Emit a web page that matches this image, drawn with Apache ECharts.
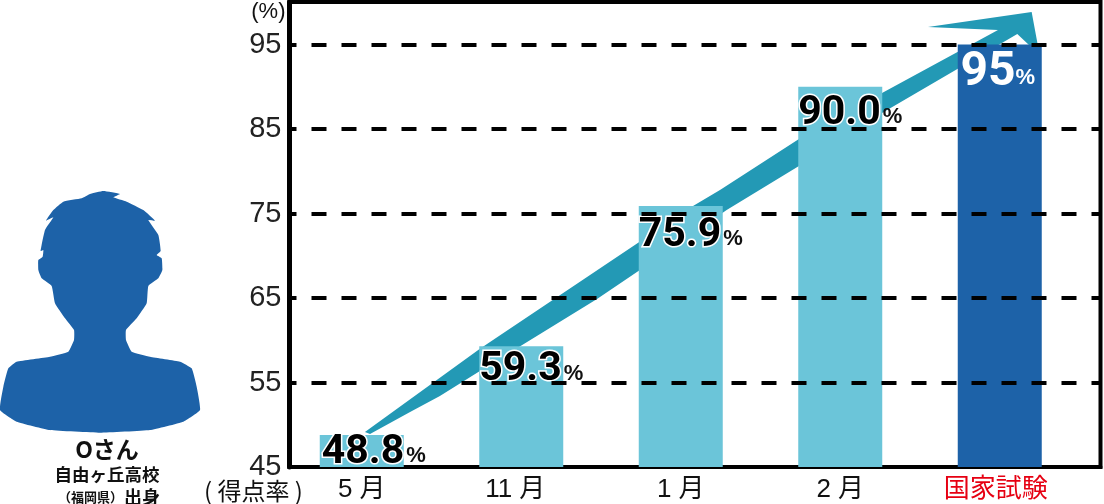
<!DOCTYPE html>
<html><head><meta charset="utf-8">
<style>html,body{margin:0;padding:0;background:#fff}#c{width:1104px;height:504px}</style>
<script src="https://cdn.jsdelivr.net/npm/echarts@6/dist/echarts.min.js"></script></head>
<body><div id="c"></div>
<script>
const categories = ['5 月','11 月','1 月','2 月','国家試験'];
const scores = [48.8,59.3,75.9,90.0,95];
const scoreLabels = ['48.8','59.3','75.9','90.0','95'];
const yTicks = [45,55,65,75,85,95];
const yMin = 45, yMax = 100.03;
// rising arrow outline, in (category index, score) units
const arrowX = [0.02,0.741,2.077,2.246,2.741,3.262,3.989,3.55,4.2,4.25,4.11,3.262,2.741,2.288,1.744,1.475,0.741,0.49,0.303,0.052];
const arrowY = [49.14,59.0,75.89,77.78,83.82,89.26,96.72,97.07,98.85,93.76,96.24,86.89,80.62,75.41,68.31,64.88,56.36,53.40,51.51,48.9];
// person silhouette outline (decoration)
const person = [[360,42],[310,33],[270,42],[245,55],[190,65],[160,90],[138,122],[160,112],[135,150],[122,213],[130,210],[128,230],[115,240],[115,270],[125,295],[155,318],[165,370],[195,415],[222,450],[222,480],[205,515],[150,530],[50,545],[25,565],[10,620],[0,690],[50,725],[150,750],[300,758],[450,750],[550,725],[600,690],[590,620],[575,565],[540,545],[450,530],[395,515],[378,480],[378,450],[410,415],[440,370],[445,318],[475,295],[487,270],[485,235],[470,225],[482,213],[475,165],[445,120],[465,122],[430,90],[380,65],[340,52]];

const LIGHT='#6BC5D9', DARK='#1D62A8', ARROW='#2399B5', RED='#E60012';
const SANS="'Liberation Sans','Noto Sans CJK JP',sans-serif";
const CJK="'Noto Sans CJK JP',sans-serif";
const labelOffsets=[[12,-3],[10,3],[10,9],[10,6],[-2,4]];

const chart=echarts.init(document.getElementById('c'),null,{renderer:'canvas'});
chart.setOption({
  animation:false,
  backgroundColor:'#fff',
  grid:[
    {left:282,top:2,width:797.5,height:465,show:false,outerBoundsMode:'none'},
    {left:289.5,top:2,width:811,height:465,show:true,borderColor:'#000',borderWidth:4,backgroundColor:'transparent',outerBoundsMode:'none'}
  ],
  xAxis:[
    {type:'category',gridIndex:0,data:categories,axisLine:{show:false},axisTick:{show:false},
     axisLabel:{interval:0,hideOverlap:false,margin:10,fontSize:26,fontFamily:SANS,color:'#111',
       formatter:(v)=>v==='国家試験'?`{e|${v}}`:(v==='11 月'?`{m|${v}}`:v),
       rich:{e:{fontSize:26,fontFamily:SANS,color:RED,padding:[0,8,0,0]},
             m:{fontSize:26,fontFamily:SANS,color:'#111',padding:[0,12,0,0]}}}},
    {type:'category',gridIndex:1,data:categories,axisLine:{lineStyle:{color:'#000',width:4}},axisTick:{show:false},axisLabel:{show:false}},
    {type:'value',gridIndex:0,min:-0.5,max:4.5,show:false,splitLine:{show:false}}
  ],
  yAxis:[
    {type:'value',gridIndex:0,min:yMin,max:yMax,show:false,splitLine:{show:false}},
    {type:'value',gridIndex:1,min:yMin,max:yMax,name:'(%)',nameLocation:'end',nameGap:-21,
     nameTextStyle:{fontSize:22,fontFamily:SANS,color:'#111',align:'right',padding:[0,4,0,0]},
     splitLine:{show:false},axisTick:{show:false},
     axisLine:{show:true,lineStyle:{color:'#000',width:5}},
     axisLabel:{customValues:yTicks,fontSize:29,fontFamily:SANS,color:'#222',margin:8,padding:[0,0,8,0]}}
  ],
  series:[
    {type:'line',xAxisIndex:1,yAxisIndex:1,data:[],z:1,silent:true,
     markLine:{silent:true,symbol:'none',animation:false,label:{show:false},
       lineStyle:{color:'#000',type:[15,15],dashOffset:8,width:4},
       data:yTicks.slice(1).map(v=>({yAxis:v}))}},
    {type:'custom',xAxisIndex:2,yAxisIndex:0,z:2,silent:true,clip:false,data:[[0,yMin]],
     renderItem:(p,api)=>({type:'polygon',
       shape:{points:arrowX.map((x,i)=>api.coord([x,arrowY[i]]))},
       style:{fill:ARROW}})},
    {type:'bar',xAxisIndex:0,yAxisIndex:0,z:3,barWidth:84,
     data:scores.map((v,i)=>({value:v,
       itemStyle:{color:i===4?DARK:LIGHT,borderWidth:0},
       label:{show:true,position:'insideTop',distance:0,offset:labelOffsets[i],
         formatter:`{${i===4?'w':'n'}|${scoreLabels[i]}}{${i===4?'wp':'p'}|%}`,
         rich:{
           n:{fontFamily:'Roboto',fontWeight:700,fontSize:41,color:'#000',textBorderColor:'#fff',textBorderWidth:3,padding:[0,2,0,0]},
           p:{fontFamily:SANS,fontWeight:700,fontSize:22,color:'#111',padding:[8,0,0,0]},
           w:{fontFamily:'Roboto',fontWeight:700,fontSize:48,color:'#fff'},
           wp:{fontFamily:SANS,fontWeight:700,fontSize:22,color:'#fff',padding:[10,0,0,0]}
         }}}))}
  ],
  graphic:[
    {type:'polygon',x:0,y:180,scaleX:1/3,scaleY:1/3,shape:{points:person,smooth:0.12},style:{fill:DARK},silent:true},
    {type:'text',x:107,y:449,style:{text:'Oさん',fontFamily:CJK,fontWeight:700,fontSize:23,fill:'#111',align:'center',verticalAlign:'middle'}},
    {type:'text',x:107,y:474,style:{text:'自由ヶ丘高校',fontFamily:CJK,fontWeight:700,fontSize:17.5,fill:'#111',align:'center',verticalAlign:'middle'}},
    {type:'text',x:58,y:497,style:{text:'（福岡県）',fontFamily:CJK,fontWeight:700,fontSize:13,fill:'#111',align:'left',verticalAlign:'middle'}},
    {type:'text',x:124,y:497,style:{text:'出身',fontFamily:CJK,fontWeight:700,fontSize:18,fill:'#111',align:'left',verticalAlign:'middle'}},
    {type:'text',x:204,y:491,style:{text:'( 得点率 )',fontFamily:CJK,fontSize:24,fill:'#111',align:'left',verticalAlign:'middle'}}
  ]
});
</script></body></html>
